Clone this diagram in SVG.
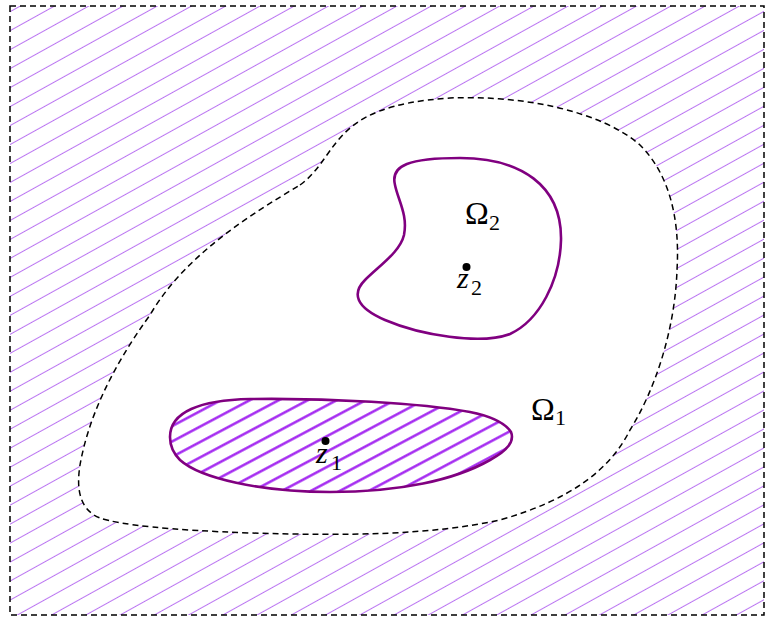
<svg xmlns="http://www.w3.org/2000/svg" width="765" height="619" viewBox="0 0 765 619">
<style>
.dash{fill:none;stroke:#000;stroke-width:1.5;stroke-dasharray:6 4}
.bound{stroke:#800080;stroke-width:2.6;stroke-linejoin:round}
.lbl{font-family:"Liberation Serif","DejaVu Serif",serif;fill:#000}
.it{font-style:italic}
</style>
<defs>
<pattern id="hatchOuter" patternUnits="userSpaceOnUse" width="20" height="16.6" patternTransform="rotate(-29)">
<line x1="-2" y1="15.1" x2="22" y2="15.1" stroke="#b060f0" stroke-width="0.9"/>
</pattern>
<pattern id="hatchInner" patternUnits="userSpaceOnUse" width="20" height="13.6" patternTransform="rotate(-28)">
<line x1="-2" y1="8.2" x2="22" y2="8.2" stroke="#a020f0" stroke-width="2.4"/>
</pattern>
</defs>
<rect width="765" height="619" fill="#fff"/>
<g id="outer">
<rect x="10" y="6" width="754" height="609" fill="url(#hatchOuter)"/>
<rect x="10" y="6" width="754" height="609" class="dash"/>
</g>
<g id="omega1">
<path d="M300,185 C318,172 325,155 340,138 C360,115 390,102 450,98 C520,95 600,110 640,145 C670,175 680,220 677,270 C675,330 655,390 630,430 C610,470 570,500 500,520 C430,535 350,536 250,533 C170,530 120,525 100,518 C80,510 76,490 80,465 C88,420 110,370 150,315 C185,255 250,215 300,185 Z" fill="#fff"/>
<path d="M300,185 C318,172 325,155 340,138 C360,115 390,102 450,98 C520,95 600,110 640,145 C670,175 680,220 677,270 C675,330 655,390 630,430 C610,470 570,500 500,520 C430,535 350,536 250,533 C170,530 120,525 100,518 C80,510 76,490 80,465 C88,420 110,370 150,315 C185,255 250,215 300,185 Z" class="dash"/>
<text class="lbl" x="531" y="420" font-size="32">Ω</text>
<text class="lbl" x="555" y="425" font-size="22">1</text>
</g>
<g id="omega2">
<path d="M395,185 C390,165 410,158 460,158 C520,158 562,185 561,240 C560,280 540,320 510,334 C480,345 420,335 385,320 C355,307 352,293 365,280 C380,265 400,252 404,235 C408,215 398,200 395,185 Z" fill="#fff" class="bound"/>
<text class="lbl" x="465" y="224" font-size="32">Ω</text>
<text class="lbl" x="489" y="230" font-size="22">2</text>
</g>
<g id="hole1">
<path d="M170,437 C170,412 200,400 250,399 C330,398 420,403 470,412 C490,416 505,423 511,432 C515,442 505,452 490,460 C455,480 400,492 330,492 C260,492 200,478 180,460 C172,452 170,445 170,437 Z" fill="url(#hatchInner)" class="bound"/>
</g>
<g id="z1">
<circle cx="325.5" cy="441" r="4" fill="#000"/>
<text class="lbl it" x="316" y="463" font-size="30">z</text>
<text class="lbl" x="331" y="470" font-size="22">1</text>
</g>
<g id="z2">
<circle cx="466.5" cy="267" r="4" fill="#000"/>
<text class="lbl it" x="457" y="288" font-size="30">z</text>
<text class="lbl" x="471" y="295" font-size="22">2</text>
</g>
</svg>
